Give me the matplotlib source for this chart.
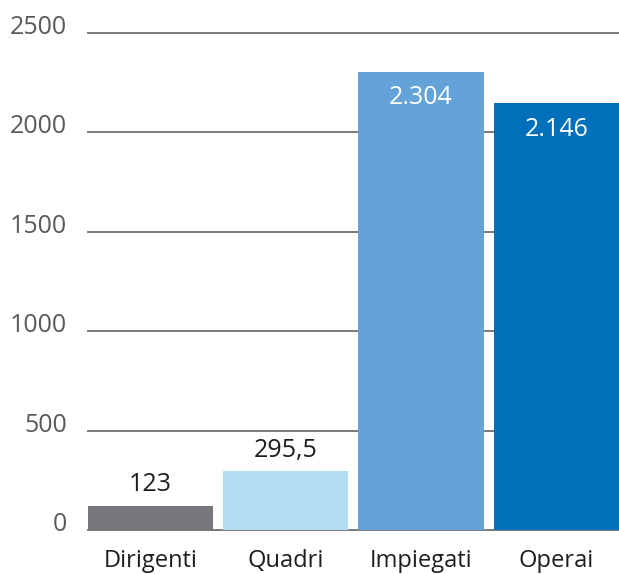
import matplotlib
matplotlib.use("Agg")
import matplotlib.pyplot as plt
from matplotlib.transforms import blended_transform_factory, offset_copy

categories = ["Dirigenti", "Quadri", "Impiegati", "Operai"]
values = [123, 295.5, 2304, 2146]
value_labels = ["123", "295,5", "2.304", "2.146"]
bar_colors = ["#76777b", "#b3ddf2", "#64a3d8", "#0070ba"]
label_inside = [False, False, True, True]
y_ticks = [0, 500, 1000, 1500, 2000, 2500]

plt.rcParams["font.family"] = ["Open Sans", "DejaVu Sans"]

fig = plt.figure(figsize=(6.19, 5.74), dpi=100)
ax = fig.add_axes([0.142, 0.0767, 0.858, 0.8658])

width = 0.926
x = range(len(categories))
ax.bar(x, values, width=width, color=bar_colors, zorder=2)

ax.set_xlim(-width / 2, len(categories) - 1 + width / 2)
ax.set_ylim(0, 2500)

# horizontal guide lines behind the bars
for t in y_ticks:
    ax.axhline(t, color="#6e6e6e", lw=1.3, zorder=1, clip_on=False)

# y labels sit on their lines, right-aligned left of the plot
trans = blended_transform_factory(ax.transAxes, ax.transData)
trans = offset_copy(trans, fig=fig, x=-21, y=-1, units="dots")
for t in y_ticks:
    ax.text(0, t, str(t), transform=trans, ha="right", va="baseline",
            fontsize=18, color="#5a5a5a")

ax.set_yticks([])
ax.set_xticks(list(x))
ax.set_xticklabels(categories, fontsize=17, color="#1e1e1e")
ax.tick_params(axis="x", length=0, pad=14)

for xi, v, lab, inside in zip(x, values, value_labels, label_inside):
    if inside:
        ax.annotate(lab, (xi, v), xytext=(0, -26), textcoords="offset pixels",
                    ha="center", va="center", fontsize=18, color="white")
    else:
        ax.annotate(lab, (xi, v), xytext=(0, 21), textcoords="offset pixels",
                    ha="center", va="center", fontsize=18, color="#1e1e1e")

for s in ax.spines.values():
    s.set_visible(False)

fig.savefig("out.png", dpi=100)
